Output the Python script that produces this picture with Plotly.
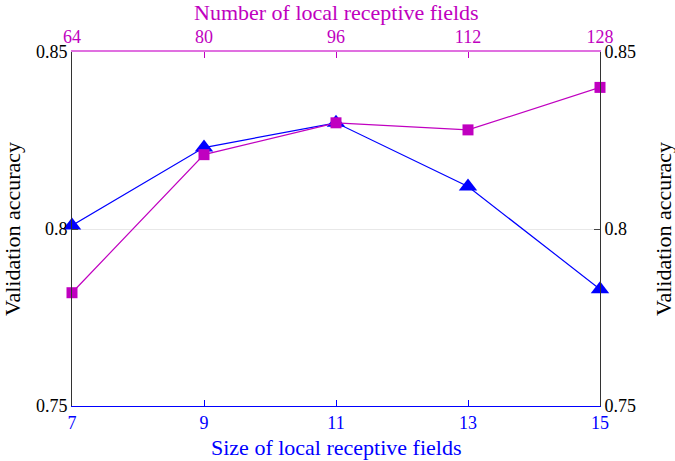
import plotly.graph_objects as go

size_vals = [7, 9, 11, 13, 15]
size_acc = [0.801, 0.823, 0.830, 0.812, 0.783]
num_vals = [64, 80, 96, 112, 128]
num_acc = [0.782, 0.821, 0.830, 0.828, 0.840]
y_ticks = [0.75, 0.8, 0.85]
y_ticktext = ["0.75", "0.8", "0.85"]

BLUE = "#0000FF"
MAG = "#C000C0"
FONT = "Liberation Serif, Times New Roman, serif"
TFS = 22

fig = go.Figure()
fig.add_trace(go.Scatter(
    x=size_vals, y=size_acc, mode="lines+markers",
    line=dict(color=BLUE, width=1.2),
    marker=dict(symbol="triangle-up", size=16, color=BLUE),
    xaxis="x", yaxis="y", showlegend=False, cliponaxis=False))
fig.add_trace(go.Scatter(
    x=num_vals, y=num_acc, mode="lines+markers",
    line=dict(color=MAG, width=1.2),
    marker=dict(symbol="square", size=11, color=MAG),
    xaxis="x2", yaxis="y", showlegend=False, cliponaxis=False))
fig.add_trace(go.Scatter(x=[7], y=[0.8], mode="markers", marker=dict(opacity=0),
                         xaxis="x", yaxis="y2", showlegend=False, hoverinfo="skip"))

fig.update_layout(
    width=675, height=461,
    margin=dict(l=72, r=75, t=52, b=55),
    paper_bgcolor="white", plot_bgcolor="white",
    font=dict(family=FONT, size=18, color="black"),
    xaxis=dict(range=[7, 15], tickvals=size_vals, ticks="inside", ticklen=6,
               tickcolor=BLUE, linecolor=BLUE, showline=True, linewidth=1,
               tickfont=dict(color=BLUE, size=18, family=FONT),
               automargin=False, showgrid=False, zeroline=False),
    xaxis2=dict(range=[64, 128], tickvals=num_vals, side="top", overlaying="x",
                anchor="y", ticks="inside", ticklen=6, tickcolor=MAG,
                linecolor="#E070E0", showline=True, linewidth=2,
                tickfont=dict(color=MAG, size=18, family=FONT),
                automargin=False, showgrid=False, zeroline=False),
    yaxis=dict(range=[0.75, 0.85], tickvals=y_ticks, ticktext=y_ticktext,
               ticks="inside", ticklen=6, tickcolor="#444", linecolor="#333",
               showline=True, linewidth=1, showgrid=True, gridcolor="#E8E8E8",
               tickfont=dict(size=18, family=FONT),
               automargin=False, zeroline=False),
    yaxis2=dict(range=[0.75, 0.85], tickvals=y_ticks, ticktext=y_ticktext,
                overlaying="y", side="right", anchor="x",
                ticks="inside", ticklen=6, tickcolor="#444", linecolor="#333",
                showline=True, linewidth=1, showgrid=False,
                tickfont=dict(size=18, family=FONT),
                automargin=False, zeroline=False),
    annotations=[
        dict(text="Size of local receptive fields", x=0.5, y=0, xref="paper", yref="paper",
             yshift=-41, showarrow=False, yanchor="middle",
             font=dict(color=BLUE, size=TFS, family=FONT)),
        dict(text="Number of local receptive fields", x=0.5, y=1, xref="paper", yref="paper",
             yshift=40, showarrow=False, yanchor="middle",
             font=dict(color=MAG, size=TFS, family=FONT)),
        dict(text="Validation accuracy", x=0, y=0.5, xref="paper", yref="paper",
             xshift=-60, showarrow=False, xanchor="center", textangle=-90,
             font=dict(color="black", size=TFS, family=FONT)),
        dict(text="Validation accuracy", x=1, y=0.5, xref="paper", yref="paper",
             xshift=63, showarrow=False, xanchor="center", textangle=-90,
             font=dict(color="black", size=TFS, family=FONT)),
    ],
)

fig.write_html("out.html", config={"displayModeBar": False},
               post_script="document.body.style.margin='0';")
